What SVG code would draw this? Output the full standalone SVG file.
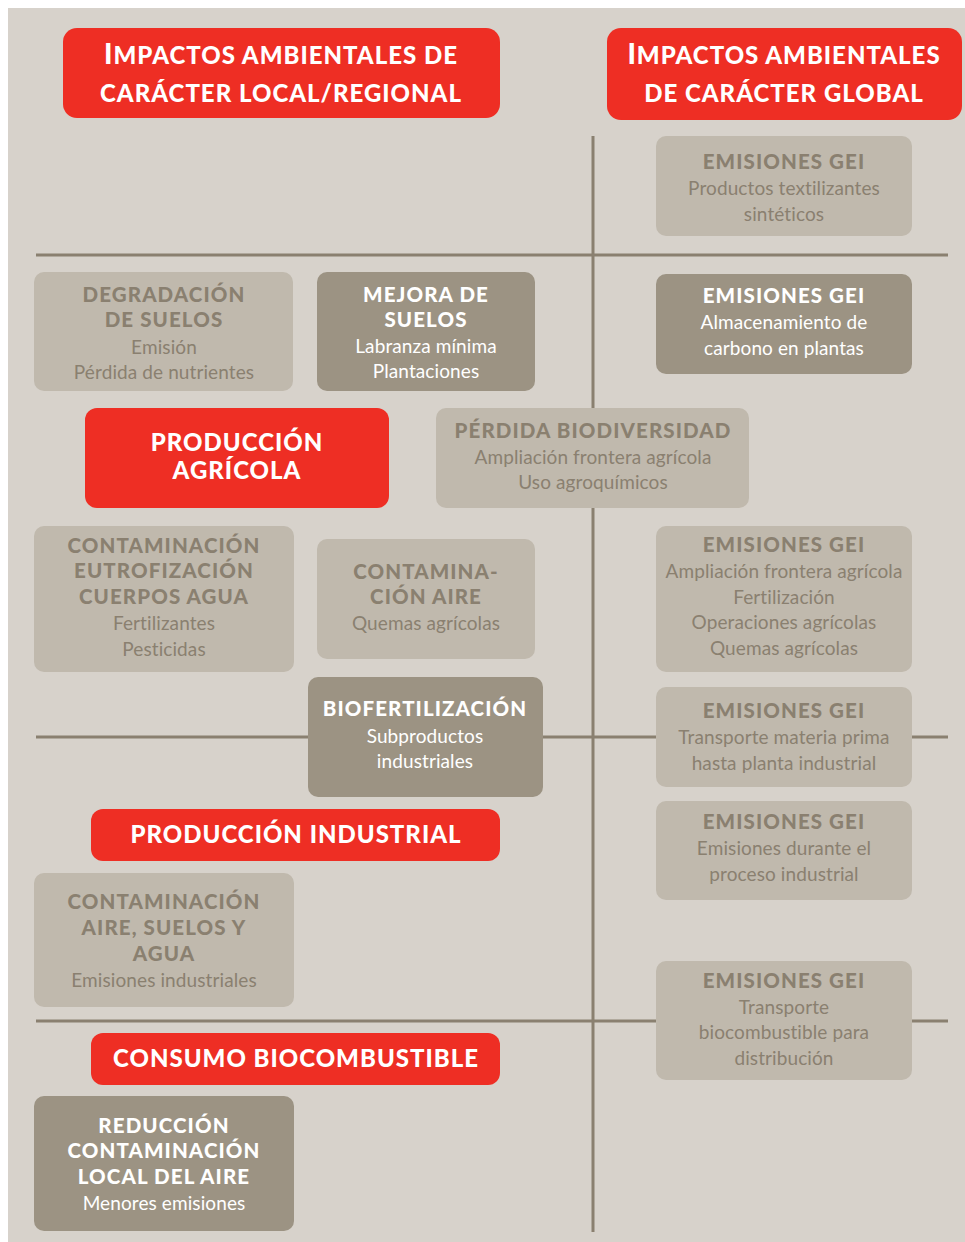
<svg xmlns="http://www.w3.org/2000/svg" width="965" height="1242" viewBox="0 0 965 1242">
<style>
text{font-family:"Lato","Open Sans","Liberation Sans",sans-serif;text-anchor:middle}
.red{fill:#ee2e24}
.lt{fill:#c0b9ad}
.dk{fill:#9c9383}
.t{font-size:24px;font-weight:900;fill:#fff;letter-spacing:1px}
.hl{font-size:20.5px;font-weight:900;fill:#8a8070;letter-spacing:1.1px}
.bl{font-size:19px;fill:#8a8070;letter-spacing:0.1px}
.hd{font-size:20.5px;font-weight:900;fill:#fff;letter-spacing:1.1px}
.bd{font-size:19px;fill:#fff;letter-spacing:0.1px}
.ln{stroke:#8a8070;stroke-width:3;fill:none}
</style>
<rect x="8" y="8" width="957" height="1234" fill="#d7d2cb"/>
<g id="connectors">
<line class="ln" x1="593" y1="136" x2="593" y2="1232"/>
<line class="ln" x1="36" y1="255" x2="948" y2="255"/>
<line class="ln" x1="36" y1="737" x2="948" y2="737"/>
<line class="ln" x1="36" y1="1021" x2="948" y2="1021"/>
</g>
<g id="title-local">
<rect class="red" x="63" y="28" width="437" height="90" rx="14"/>
<text class="t" x="281" y="64"><tspan font-size="28">I</tspan>MPACTOS AMBIENTALES DE</text>
<text class="t" x="281" y="102">CARÁCTER LOCAL/REGIONAL</text>
</g>
<g id="title-global">
<rect class="red" x="607" y="28" width="355" height="92" rx="14"/>
<text class="t" x="784" y="64"><tspan font-size="28">I</tspan>MPACTOS AMBIENTALES</text>
<text class="t" x="784" y="102">DE CARÁCTER GLOBAL</text>
</g>
<g id="gei-textil">
<rect class="lt" x="656" y="136" width="256" height="100" rx="10"/>
<text class="hl" x="784" y="169">EMISIONES GEI</text>
<text class="bl" x="784" y="195">Productos textilizantes</text>
<text class="bl" x="784" y="221">sintéticos</text>
</g>
<g id="gei-almacenamiento">
<rect class="dk" x="656" y="274" width="256" height="100" rx="10"/>
<text class="hd" x="784" y="303">EMISIONES GEI</text>
<text class="bd" x="784" y="329">Almacenamiento de</text>
<text class="bd" x="784" y="355">carbono en plantas</text>
</g>
<g id="degradacion">
<rect class="lt" x="34" y="272" width="259" height="119" rx="10"/>
<text class="hl" x="164" y="302">DEGRADACIÓN</text>
<text class="hl" x="164" y="327">DE SUELOS</text>
<text class="bl" x="164" y="354">Emisión</text>
<text class="bl" x="164" y="379">Pérdida de nutrientes</text>
</g>
<g id="mejora">
<rect class="dk" x="317" y="272" width="218" height="119" rx="10"/>
<text class="hd" x="426" y="302">MEJORA DE</text>
<text class="hd" x="426" y="327">SUELOS</text>
<text class="bd" x="426" y="353">Labranza mínima</text>
<text class="bd" x="426" y="378">Plantaciones</text>
</g>
<g id="produccion-agricola">
<rect class="red" x="85" y="408" width="304" height="100" rx="12"/>
<text class="t" x="237" y="451">PRODUCCIÓN</text>
<text class="t" x="237" y="479">AGRÍCOLA</text>
</g>
<g id="perdida">
<rect class="lt" x="436" y="408" width="313" height="100" rx="10"/>
<text class="hl" x="593" y="438">PÉRDIDA BIODIVERSIDAD</text>
<text class="bl" x="593" y="464">Ampliación frontera agrícola</text>
<text class="bl" x="593" y="489">Uso agroquímicos</text>
</g>
<g id="contaminacion-agua">
<rect class="lt" x="34" y="526" width="260" height="146" rx="10"/>
<text class="hl" x="164" y="553">CONTAMINACIÓN</text>
<text class="hl" x="164" y="578">EUTROFIZACIÓN</text>
<text class="hl" x="164" y="604">CUERPOS AGUA</text>
<text class="bl" x="164" y="630">Fertilizantes</text>
<text class="bl" x="164" y="656">Pesticidas</text>
</g>
<g id="contaminacion-aire">
<rect class="lt" x="317" y="539" width="218" height="120" rx="10"/>
<text class="hl" x="426" y="579">CONTAMINA-</text>
<text class="hl" x="426" y="604">CIÓN AIRE</text>
<text class="bl" x="426" y="630">Quemas agrícolas</text>
</g>
<g id="gei-agricola">
<rect class="lt" x="656" y="526" width="256" height="146" rx="10"/>
<text class="hl" x="784" y="552">EMISIONES GEI</text>
<text class="bl" x="784" y="578">Ampliación frontera agrícola</text>
<text class="bl" x="784" y="604">Fertilización</text>
<text class="bl" x="784" y="629">Operaciones agrícolas</text>
<text class="bl" x="784" y="655">Quemas agrícolas</text>
</g>
<g id="biofertilizacion">
<rect class="dk" x="308" y="677" width="235" height="120" rx="10"/>
<text class="hd" x="425" y="716">BIOFERTILIZACIÓN</text>
<text class="bd" x="425" y="743">Subproductos</text>
<text class="bd" x="425" y="768">industriales</text>
</g>
<g id="gei-transporte-materia">
<rect class="lt" x="656" y="687" width="256" height="100" rx="10"/>
<text class="hl" x="784" y="718">EMISIONES GEI</text>
<text class="bl" x="784" y="744">Transporte materia prima</text>
<text class="bl" x="784" y="770">hasta planta industrial</text>
</g>
<g id="gei-proceso">
<rect class="lt" x="656" y="801" width="256" height="99" rx="10"/>
<text class="hl" x="784" y="829">EMISIONES GEI</text>
<text class="bl" x="784" y="855">Emisiones durante el</text>
<text class="bl" x="784" y="881">proceso industrial</text>
</g>
<g id="produccion-industrial">
<rect class="red" x="91" y="809" width="409" height="52" rx="12"/>
<text class="t" x="296" y="843">PRODUCCIÓN INDUSTRIAL</text>
</g>
<g id="contaminacion-industrial">
<rect class="lt" x="34" y="873" width="260" height="134" rx="10"/>
<text class="hl" x="164" y="909">CONTAMINACIÓN</text>
<text class="hl" x="164" y="935">AIRE, SUELOS Y</text>
<text class="hl" x="164" y="961">AGUA</text>
<text class="bl" x="164" y="987">Emisiones industriales</text>
</g>
<g id="gei-distribucion">
<rect class="lt" x="656" y="961" width="256" height="119" rx="10"/>
<text class="hl" x="784" y="988">EMISIONES GEI</text>
<text class="bl" x="784" y="1014">Transporte</text>
<text class="bl" x="784" y="1039">biocombustible para</text>
<text class="bl" x="784" y="1065">distribución</text>
</g>
<g id="consumo">
<rect class="red" x="91" y="1033" width="409" height="52" rx="12"/>
<text class="t" x="296" y="1067">CONSUMO BIOCOMBUSTIBLE</text>
</g>
<g id="reduccion">
<rect class="dk" x="34" y="1096" width="260" height="135" rx="10"/>
<text class="hd" x="164" y="1133">REDUCCIÓN</text>
<text class="hd" x="164" y="1158">CONTAMINACIÓN</text>
<text class="hd" x="164" y="1184">LOCAL DEL AIRE</text>
<text class="bd" x="164" y="1210">Menores emisiones</text>
</g>
</svg>
